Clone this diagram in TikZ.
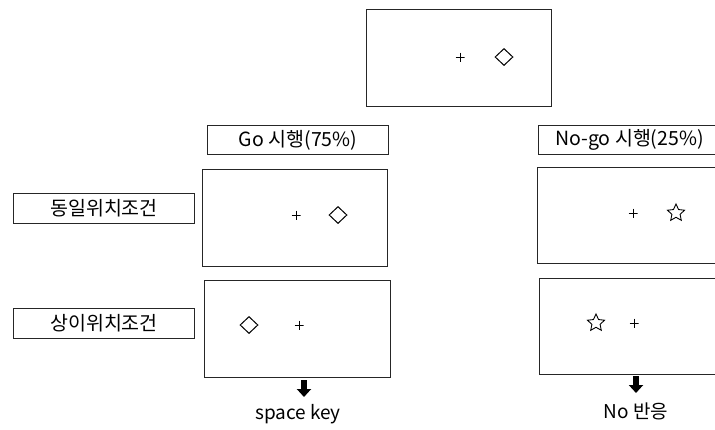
\documentclass[tikz,border=0pt]{standalone}
\usepackage{fontspec}
\setmainfont{Noto Sans CJK KR}
\usetikzlibrary{arrows.meta,shapes.geometric}
\begin{document}
\begin{tikzpicture}[x=1pt,y=-1pt,
  screen/.style={draw=black!85, line width=1.1pt, anchor=north west, inner sep=0pt},
  tag/.style={draw=black!85, line width=1.1pt, anchor=north west, inner sep=0pt,
    font=\fontsize{19.5}{22}\selectfont},
  caption/.style={font=\fontsize{19}{22}\selectfont, inner sep=0pt},
  fix/.style={inner sep=0pt, minimum size=9pt,
    path picture={\draw[line width=1pt] (path picture bounding box.west) -- (path picture bounding box.east)
      (path picture bounding box.north) -- (path picture bounding box.south);}},
  dia/.style={draw=black, line width=1pt, diamond, minimum width=18pt, minimum height=17pt, inner sep=0pt, aspect=1.1},
  starshape/.style={draw=black, line width=0.9pt, star, star points=5, star point ratio=2.1, minimum size=18pt, inner sep=0pt},
  blockarrow/.style={line width=6pt, -{Triangle[width=14pt,length=8pt]}}
]
\clip (0,0) rectangle (715,429);
\fill[white] (0,0) rectangle (715,429);

% top screen
\node[screen, minimum width=185pt, minimum height=97pt] (top) at (366,9) {};
\node[fix] (tf) at (460,57) {};
\node[dia] (td) at (504,57) {};

% column labels
\node[tag, minimum width=181pt, minimum height=29pt] (go) at (207,125) {Go 시행(75\%)};
\node[tag, minimum width=182pt, minimum height=29pt] (nogo) at (538,125) {No-go 시행(25\%)};

% row labels
\node[tag, minimum width=181pt, minimum height=30pt] (same) at (13,193) {동일위치조건};
\node[tag, minimum width=181pt, minimum height=30pt] (diff) at (13,308) {상이위치조건};

% go screens
\node[screen, minimum width=185pt, minimum height=97pt] (g1) at (202,169) {};
\node[fix] (g1f) at (296,215) {};
\node[dia] (g1d) at (338,215) {};

\node[screen, minimum width=186pt, minimum height=97pt] (g2) at (204,280) {};
\node[dia] (g2d) at (249,325) {};
\node[fix] (g2f) at (299,325) {};

% no-go screens
\node[screen, minimum width=185pt, minimum height=96pt] (n1) at (537,167) {};
\node[fix] (n1f) at (633,213) {};
\node[starshape] (n1s) at (676,213) {};

\node[screen, minimum width=185pt, minimum height=96pt] (n2) at (539,278) {};
\node[starshape] (n2s) at (596,323) {};
\node[fix] (n2f) at (634,323) {};

% responses
\node[caption] (resp1) at (298,414) {space key};
\node[caption] (resp2) at (636,411) {No 반응};
\coordinate (a1s) at (304,380);
\coordinate (a1e) at (304,397);
\coordinate (a2s) at (636,376);
\coordinate (a2e) at (636,393);
\draw[blockarrow] (a1s) -- (a1e);
\draw[blockarrow] (a2s) -- (a2e);
\end{tikzpicture}
\end{document}
